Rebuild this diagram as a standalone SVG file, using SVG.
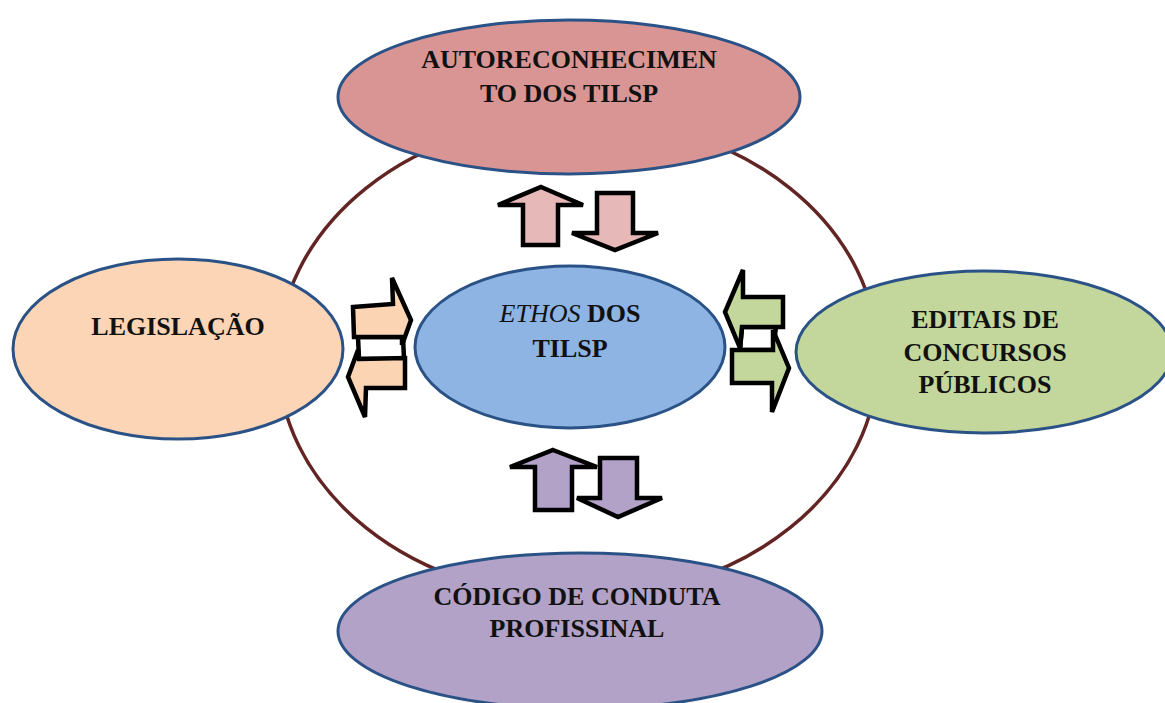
<svg xmlns="http://www.w3.org/2000/svg" width="1165" height="703" viewBox="0 0 1165 703">
  <style>
    .node { stroke: #2a5286; stroke-width: 3; }
    .lbl { font-family: "Liberation Serif", "Times New Roman", serif; font-weight: bold; font-size: 26px; fill: #111; text-anchor: middle; }
    .arr { stroke: #000; stroke-width: 4.5; stroke-linejoin: miter; }
  </style>
  <rect width="1165" height="703" fill="#ffffff"/>

  <!-- outer ring linking the four themes -->
  <g id="ring">
    <ellipse cx="578" cy="358" rx="300" ry="240" fill="none" stroke="#632523" stroke-width="3.5"/>
  </g>

  <g id="node-autoreconhecimento">
    <ellipse class="node" cx="569" cy="97" rx="231" ry="77" fill="#d99594"/>
    <text class="lbl" x="569" y="68">AUTORECONHECIMEN</text>
    <text class="lbl" x="569" y="102">TO DOS TILSP</text>
  </g>

  <g id="node-legislacao">
    <ellipse class="node" cx="178" cy="349" rx="165" ry="90" fill="#fbd5b5"/>
    <text class="lbl" x="178" y="335">LEGISLAÇÃO</text>
  </g>

  <g id="node-editais">
    <ellipse class="node" cx="984" cy="352" rx="188" ry="81" fill="#c3d69b"/>
    <text class="lbl" x="985" y="328">EDITAIS DE</text>
    <text class="lbl" x="985" y="361">CONCURSOS</text>
    <text class="lbl" x="985" y="393">PÚBLICOS</text>
  </g>

  <g id="node-codigo">
    <ellipse class="node" cx="580" cy="631" rx="242" ry="78" fill="#b2a2c7"/>
    <text class="lbl" x="577" y="605">CÓDIGO DE CONDUTA</text>
    <text class="lbl" x="577" y="637">PROFISSINAL</text>
  </g>

  <g id="node-ethos">
    <ellipse class="node" cx="570" cy="347" rx="155" ry="81" fill="#8eb4e3"/>
    <text class="lbl" x="570" y="322"><tspan font-style="italic" font-weight="normal">ETHOS</tspan> DOS</text>
    <text class="lbl" x="570" y="357">TILSP</text>
  </g>

  <!-- paired exchange arrows between the centre and each theme -->
  <g id="connectors">
    <!-- top pair -->
    <polygon class="arr" fill="#e6b9b8" points="541,187 583,205 558,205 558,245 523,245 523,205 498,205"/>
    <polygon class="arr" fill="#e6b9b8" points="597,193 633,193 633,233 658,233 615,250 572,233 597,233"/>
    <!-- bottom pair -->
    <polygon class="arr" fill="#b3a2c7" points="553,450 597,467 572,467 572,510 535,510 535,467 510,467"/>
    <polygon class="arr" fill="#b3a2c7" points="600,458 637,458 637,498 662,498 618,517 577,498 600,498"/>
    <!-- left pair -->
    <polygon class="arr" fill="#ffffff" points="358,337 403,337 404,359 359,359"/>
    <polygon class="arr" fill="#fbd4b4" points="353,307 393,304 392,278 411,320 402,345 402,337 354,337"/>
    <polygon class="arr" fill="#fbd4b4" points="359,359 405,358 405,388 366,388 365,417 348,377 358,350"/>
    <!-- right pair -->
    <polygon class="arr" fill="#ffffff" points="742,327 776,327 773,350 740,350"/>
    <polygon class="arr" fill="#c3d69b" points="743,270 743,297 783,297 783,327 742,327 740,348 725,312"/>
    <polygon class="arr" fill="#c3d69b" points="732,350 773,350 773,330 789,368 772,412 772,383 732,383"/>
  </g>
</svg>
